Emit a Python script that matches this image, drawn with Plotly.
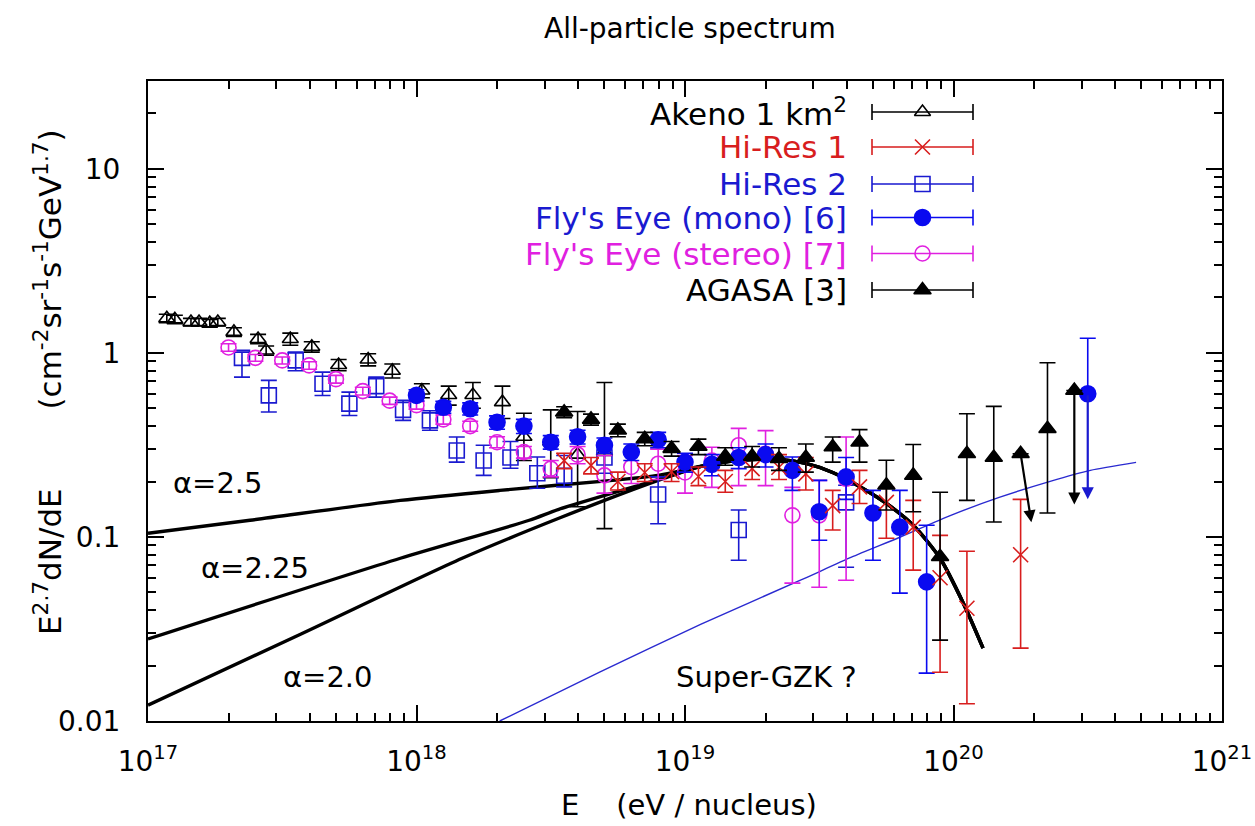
import math
import plotly.graph_objects as go

FONT = "DejaVu Sans, Verdana, sans-serif"

# ---------------- data (log10 E [eV], E^2.7 dN/dE, upper bar end, lower bar end) ----------------
akeno_logE = [17.07, 17.10, 17.16, 17.19, 17.23, 17.26, 17.32, 17.41, 17.44, 17.53, 17.61,
              17.71, 17.82, 17.91, 18.02, 18.12, 18.21, 18.32, 18.40, 18.50, 18.60, 18.70]
akeno_val = [1.54, 1.52, 1.47, 1.47, 1.45, 1.47, 1.30, 1.19, 1.03, 1.19, 1.08,
             0.86, 0.92, 0.80, 0.625, 0.59, 0.59, 0.54, 0.35, 0.33, 0.28, 0.29]
akeno_hi = [1.62, 1.60, 1.54, 1.54, 1.52, 1.54, 1.37, 1.26, 1.09, 1.28, 1.15,
            0.92, 0.99, 0.87, 0.68, 0.66, 0.69, 0.66, 0.47, 0.49, 0.48, 0.69]
akeno_lo = [1.46, 1.44, 1.40, 1.40, 1.38, 1.40, 1.23, 1.12, 0.97, 1.10, 1.01,
            0.80, 0.85, 0.73, 0.57, 0.52, 0.50, 0.44, 0.26, 0.21, 0.146, 0.111]

hires1_logE = [18.55, 18.65, 18.75, 18.85, 18.95, 19.05, 19.15, 19.25, 19.35, 19.45,
               19.55, 19.65, 19.75, 19.85, 19.95, 20.05, 20.25]
hires1_val = [0.26, 0.245, 0.20, 0.224, 0.226, 0.213, 0.20, 0.235, 0.239, 0.22,
              0.148, 0.187, 0.154, 0.113, 0.060, 0.041, 0.080]
hires1_hi = [0.285, 0.27, 0.225, 0.25, 0.25, 0.24, 0.23, 0.27, 0.28, 0.27,
             0.179, 0.230, 0.186, 0.158, 0.102, 0.0836, 0.160]
hires1_lo = [0.235, 0.22, 0.18, 0.20, 0.20, 0.19, 0.175, 0.205, 0.205, 0.18,
             0.109, 0.152, 0.0984, 0.066, 0.0184, 0.0124, 0.0249]

hires2_logE = [17.35, 17.45, 17.55, 17.65, 17.75, 17.85, 17.95, 18.05, 18.15, 18.25,
               18.35, 18.45, 18.55, 18.70, 18.90, 19.20, 19.60]
hires2_val = [0.94, 0.588, 0.91, 0.68, 0.53, 0.66, 0.49, 0.43, 0.295, 0.26,
              0.27, 0.222, 0.215, 0.27, 0.17, 0.109, 0.154]
hires2_hi = [1.01, 0.709, 1.01, 0.786, 0.612, 0.738, 0.552, 0.485, 0.349, 0.315,
             0.33, 0.272, 0.277, 0.315, 0.212, 0.140, 0.191]
hires2_lo = [0.738, 0.477, 0.80, 0.587, 0.457, 0.575, 0.43, 0.38, 0.255, 0.216,
             0.236, 0.184, 0.187, 0.222, 0.118, 0.0747, 0.0685]

mono_logE = [18.00, 18.10, 18.20, 18.30, 18.40, 18.50, 18.60, 18.70, 18.80, 18.90,
             19.00, 19.10, 19.20, 19.30, 19.40, 19.50, 19.60, 19.70, 19.80, 19.90, 20.50]
mono_val = [0.588, 0.507, 0.497, 0.42, 0.40, 0.327, 0.35, 0.315, 0.289, 0.337,
            0.255, 0.248, 0.27, 0.28, 0.23, 0.137, 0.212, 0.135, 0.113, 0.057, 0.60]
mono_hi = [0.63, 0.545, 0.535, 0.455, 0.435, 0.355, 0.38, 0.345, 0.32, 0.37,
           0.285, 0.28, 0.305, 0.32, 0.272, 0.203, 0.27, 0.179, 0.179, 0.1157, 1.20]
mono_lo = [0.548, 0.47, 0.46, 0.385, 0.365, 0.30, 0.32, 0.285, 0.26, 0.305,
           0.225, 0.215, 0.235, 0.24, 0.179, 0.096, 0.16, 0.0747, 0.0495, 0.0182, 0.60]

stereo_logE = [17.30, 17.40, 17.50, 17.60, 17.70, 17.80, 17.90, 18.00, 18.10, 18.20,
               18.30, 18.40, 18.50, 18.60, 18.70, 18.80, 18.90, 19.00, 19.10, 19.20,
               19.30, 19.40, 19.50, 19.60]
stereo_val = [1.07, 0.94, 0.91, 0.855, 0.72, 0.62, 0.55, 0.52, 0.435, 0.40,
              0.327, 0.289, 0.235, 0.28, 0.216, 0.24, 0.25, 0.224, 0.26, 0.315,
              0.283, 0.131, 0.131, 0.207]
stereo_hi = [1.12, 0.98, 0.95, 0.895, 0.755, 0.65, 0.575, 0.545, 0.46, 0.425,
             0.35, 0.31, 0.26, 0.31, 0.277, 0.29, 0.30, 0.277, 0.307, 0.389,
             0.378, 0.186, 0.203, 0.349]
stereo_lo = [1.02, 0.90, 0.87, 0.815, 0.685, 0.59, 0.525, 0.495, 0.41, 0.375,
             0.305, 0.268, 0.212, 0.25, 0.173, 0.195, 0.205, 0.173, 0.186, 0.19,
             0.19, 0.0561, 0.0533, 0.0582]

agasa_logE = [18.55, 18.65, 18.75, 18.85, 18.95, 19.05, 19.15, 19.25, 19.35, 19.45,
              19.55, 19.65, 19.75, 19.85, 19.95, 20.05, 20.15, 20.25, 20.35, 20.45]
agasa_val = [0.476, 0.435, 0.38, 0.341, 0.302, 0.31, 0.274, 0.274, 0.266, 0.27,
             0.308, 0.327, 0.191, 0.216, 0.078, 0.283, 0.27, 0.283, 0.387, 0.625]
agasa_hi = [0.51, 0.465, 0.41, 0.37, 0.33, 0.34, 0.305, 0.31, 0.305, 0.32,
            0.349, 0.383, 0.261, 0.318, 0.175, 0.467, 0.512, 0.283, 0.884, 0.625]
agasa_lo = [0.445, 0.405, 0.35, 0.313, 0.275, 0.28, 0.245, 0.24, 0.23, 0.225,
            0.255, 0.255, 0.14, 0.137, 0.0275, 0.158, 0.1206, 0.283, 0.135, 0.625]

# downward arrows (start point -> tip)
arrow_from_logE = [20.25, 20.45, 20.50]
arrow_from_val = [0.283, 0.625, 0.60]
arrow_to_logE = [20.29, 20.45, 20.50]
arrow_to_val = [0.12, 0.15, 0.16]
arrow_color = ["black", "black", "#1a1ad0"]

# propagated model spectra (curves)
a25_logE = [17.0, 17.38, 17.94, 18.31, 18.73, 18.90]
a25_val = [0.1047, 0.1232, 0.158, 0.179, 0.203, 0.216]
a225_logE = [17.0, 17.94, 18.42, 18.53, 18.90]
a225_val = [0.0279, 0.0766, 0.1232, 0.1413, 0.205]
a20_logE = [17.0, 17.57, 18.17, 18.53, 18.90]
a20_val = [0.0122, 0.0297, 0.0766, 0.1263, 0.203]
tail_logE = [19.06, 19.20, 19.35, 19.45, 19.55, 19.65, 19.75, 19.85, 19.95, 20.04, 20.11]
tail_val = [0.242, 0.261, 0.264, 0.251, 0.224, 0.188, 0.152, 0.1157, 0.0766, 0.0426, 0.0249]

gzk_logE = [18.31, 18.68, 19.06, 19.43, 19.62, 19.80, 19.99, 20.17, 20.36, 20.51, 20.68]
gzk_val = [0.0100, 0.0184, 0.0336, 0.0582, 0.0776, 0.0996, 0.131, 0.164, 0.2005, 0.230, 0.254]

# axis ticks
x_major = [1e17, 1e18, 1e19, 1e20, 1e21]
x_major_text = ["10<sup>17</sup>", "10<sup>18</sup>", "10<sup>19</sup>", "10<sup>20</sup>", "10<sup>21</sup>"]
y_major = [0.01, 0.1, 1, 10]
y_major_text = ["0.01", "0.1", "1", "10"]

# legend
legend_labels = ["Akeno 1 km<sup>2</sup>", "Hi-Res 1", "Hi-Res 2", "Fly's Eye (mono) [6]",
                 "Fly's Eye (stereo) [7]", "AGASA [3]"]

RED = "#d81e1e"
BLUE = "#1a1ad0"
BBLUE = "#0a0af0"
MAG = "#e020e0"

styles = {
    "akeno": dict(color="black", symbol="triangle-up-open", size=14),
    "hires1": dict(color=RED, symbol="x-thin-open", size=15),
    "hires2": dict(color=BLUE, symbol="square-open", size=15),
    "mono": dict(color=BBLUE, symbol="circle", size=16),
    "stereo": dict(color=MAG, symbol="circle-open", size=15),
    "agasa": dict(color="black", symbol="triangle-up", size=15),
}


def E(logs):
    return [10.0 ** v for v in logs]


def yerr(val, hi, lo, color):
    return dict(type="data", symmetric=False,
                array=[h - v for v, h in zip(val, hi)],
                arrayminus=[v - l for v, l in zip(val, lo)],
                color=color, thickness=1.6, width=8)


fig = go.Figure()

# model curves
for le, v in [(a25_logE, a25_val), (a225_logE, a225_val), (a20_logE, a20_val)]:
    fig.add_trace(go.Scatter(x=E(le + tail_logE), y=v + tail_val, mode="lines",
                             line=dict(color="black", width=3.4, shape="spline", smoothing=0.7),
                             hoverinfo="skip", showlegend=False))

fig.add_trace(go.Scatter(x=E(gzk_logE), y=gzk_val, mode="lines",
                         line=dict(color="#2a2ad0", width=1.4, shape="spline", smoothing=0.6),
                         hoverinfo="skip", showlegend=False))

series = [
    ("akeno", akeno_logE, akeno_val, akeno_hi, akeno_lo),
    ("hires2", hires2_logE, hires2_val, hires2_hi, hires2_lo),
    ("stereo", stereo_logE, stereo_val, stereo_hi, stereo_lo),
    ("mono", mono_logE, mono_val, mono_hi, mono_lo),
    ("hires1", hires1_logE, hires1_val, hires1_hi, hires1_lo),
    ("agasa", agasa_logE, agasa_val, agasa_hi, agasa_lo),
]

for key, le, v, hi, lo in series:
    st = styles[key]
    fig.add_trace(go.Scatter(
        x=E(le), y=v, mode="markers",
        marker=dict(symbol=st["symbol"], size=st["size"], color=st["color"],
                    line=dict(color=st["color"], width=1.6)),
        error_y=yerr(v, hi, lo, st["color"]),
        hoverinfo="skip", showlegend=False))

annotations = []
for fl, fv, tl, tv, c in zip(arrow_from_logE, arrow_from_val, arrow_to_logE, arrow_to_val, arrow_color):
    annotations.append(dict(x=tl, y=math.log10(tv), ax=fl, ay=math.log10(fv),
                            xref="x", yref="y", axref="x", ayref="y", text="",
                            showarrow=True, arrowhead=2, arrowsize=1.1, arrowwidth=2.2,
                            arrowcolor=c))

# text labels inside the plot
for txt, lx, ly in [("α=2.5", 17.262, -0.709), ("α=2.25", 17.40, -1.170),
                    ("α=2.0", 17.67, -1.761), ("Super-GZK ?", 19.302, -1.761)]:
    annotations.append(dict(x=lx, y=ly, xref="x", yref="y", text=txt, showarrow=False,
                            font=dict(family=FONT, size=29, color="black")))

# legend (drawn on an overlay axis measured in page pixels)
legend_keys = ["akeno", "hires1", "hires2", "mono", "stereo", "agasa"]
legend_colors = ["black", RED, BLUE, BLUE, MAG, "black"]
row_y = [112, 147, 184, 217.5, 253.5, 290]
for key, lab, col, ry in zip(legend_keys, legend_labels, legend_colors, row_y):
    st = styles[key]
    fig.add_trace(go.Scatter(
        x=[922.5], y=[ry], xaxis="x2", yaxis="y2", mode="markers",
        marker=dict(symbol=st["symbol"], size=st["size"], color=st["color"],
                    line=dict(color=st["color"], width=1.6)),
        error_x=dict(type="data", array=[50.5], color=st["color"], thickness=1.6, width=8),
        hoverinfo="skip", showlegend=False))
    annotations.append(dict(x=849, y=ry, xref="x2", yref="y2", text=lab, showarrow=False,
                            xanchor="right", yanchor="middle",
                            font=dict(family=FONT, size=31, color=col)))

# titles (paper coordinates: plot area spans 148..1222 px wide, 81..721 px high)
annotations.append(dict(x=(690 - 148) / 1074, y=(721 - 28) / 640, xref="paper", yref="paper",
                        text="All-particle spectrum", showarrow=False, yanchor="middle",
                        font=dict(family=FONT, size=28, color="black")))
annotations.append(dict(x=(689 - 148) / 1074, y=(721 - 805) / 640, xref="paper", yref="paper",
                        text="E\u00a0\u00a0\u00a0\u00a0(eV / nucleus)", showarrow=False,
                        yanchor="middle", font=dict(family=FONT, size=29, color="black")))
annotations.append(dict(x=(26 - 148) / 1074, y=(721 - 382) / 640, xref="paper", yref="paper",
                        text="E<sup>2.7</sup>dN/dE" + "\u00a0" * 8 +
                             "(cm<sup>-2</sup>sr<sup>-1</sup>s<sup>-1</sup>GeV<sup>1.7</sup>)",
                        textangle=-90, showarrow=False,
                        font=dict(family=FONT, size=31, color="black")))

minor_x = [m * 10.0 ** k for k in range(17, 21) for m in range(2, 10)]
minor_y = [m * 10.0 ** k for k in range(-2, 2) for m in range(2, 10) if m * 10.0 ** k <= 30]

axis_common = dict(showgrid=False, zeroline=False, showline=True, linecolor="black",
                   linewidth=2, mirror="allticks", ticks="inside", ticklen=16,
                   tickwidth=1.5, tickcolor="black", automargin=False,
                   tickfont=dict(family=FONT, size=28, color="black"))

fig.update_layout(
    width=1255, height=826,
    margin=dict(l=148, r=33, t=81, b=105, autoexpand=False),
    paper_bgcolor="white", plot_bgcolor="white",
    showlegend=False,
    xaxis=dict(type="log", range=[17, 21], tickmode="array", tickvals=x_major,
               ticktext=x_major_text, ticklabelstandoff=14,
               minor=dict(tickmode="array", tickvals=minor_x, ticks="inside", ticklen=8,
                          tickwidth=1.5, tickcolor="black", showgrid=False),
               **axis_common),
    yaxis=dict(type="log", range=[-2, math.log10(30)], tickmode="array", tickvals=y_major,
               ticktext=y_major_text, ticklabelstandoff=20,
               minor=dict(tickmode="array", tickvals=minor_y, ticks="inside", ticklen=8,
                          tickwidth=1.5, tickcolor="black", showgrid=False),
               **axis_common),
    xaxis2=dict(overlaying="x", range=[148, 1222], visible=False, fixedrange=True),
    yaxis2=dict(overlaying="y", range=[721, 81], visible=False, fixedrange=True),
    annotations=annotations,
)

fig.write_html("out.html")
